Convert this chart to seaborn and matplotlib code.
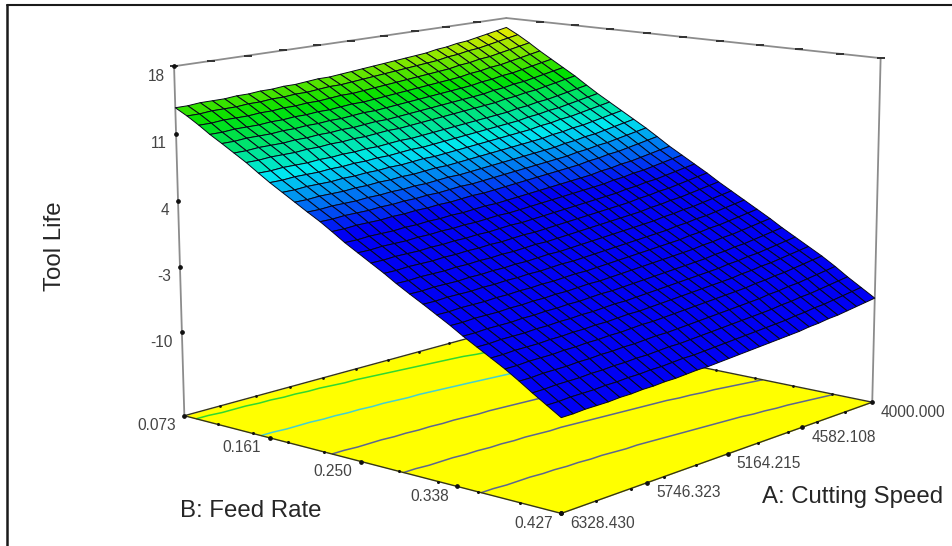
import matplotlib
matplotlib.use("Agg")
import matplotlib.pyplot as plt
import numpy as np
import seaborn as sns
from matplotlib.lines import Line2D
from mpl_toolkits.mplot3d import proj3d

cutting_speed = [4000, 4078, 4155, 4233, 4310, 4388, 4466, 4543, 4621, 4699, 4776,
                 4854, 4931, 5009, 5087, 5164, 5242, 5319, 5397, 5475, 5552,
                 5630, 5708, 5785, 5863, 5940, 6018, 6096, 6173, 6251, 6328.43]
feed_rate = [0.073, 0.085, 0.097, 0.108, 0.120, 0.132, 0.144, 0.156, 0.167, 0.179, 0.191,
             0.203, 0.215, 0.226, 0.238, 0.250, 0.262, 0.274, 0.285, 0.297, 0.309,
             0.321, 0.333, 0.344, 0.356, 0.368, 0.380, 0.392, 0.403, 0.415, 0.427]
# tool life along feed rate at A = 4000
life_by_feed = [16.9, 16.2, 15.4, 14.6, 13.8, 13.0, 12.2, 11.3, 10.5, 9.7, 8.9,
                8.1, 7.3, 6.5, 5.6, 4.8, 4.0, 3.2, 2.4, 1.6, 0.8,
                0.0, -0.8, -1.6, -2.4, -3.2, -4.0, -4.9, -5.8, -6.7, -7.6]
# drop along cutting speed, and how strong that drop is at each feed rate
life_by_speed = [0.0, -0.2, -0.4, -0.6, -0.8, -0.9, -1.1, -1.2, -1.4, -1.5, -1.6,
                 -1.7, -1.8, -1.9, -2.0, -2.1, -2.2, -2.3, -2.3, -2.4, -2.5,
                 -2.5, -2.6, -2.6, -2.7, -2.7, -2.8, -2.8, -2.8, -2.9, -2.9]
speed_weight = [1.10, 1.09, 1.08, 1.07, 1.05, 1.04, 1.03, 1.02, 1.01, 1.00, 0.99,
                0.98, 0.96, 0.95, 0.94, 0.93, 0.92, 0.91, 0.90, 0.89, 0.87,
                0.86, 0.85, 0.84, 0.83, 0.82, 0.81, 0.80, 0.78, 0.77, 0.76]

speed_ticks = [4000.000, 4582.108, 5164.215, 5746.323, 6328.430]
feed_ticks = [0.073, 0.161, 0.250, 0.338, 0.427]
life_ticks = [-10, -3, 4, 11, 18]
contour_levels = [-5.0, -0.5, 4.0, 8.6, 13.0]
contour_colors = ["#5c6690", "#5c6690", "#5c6690", "#45d0d0", "#30d830"]
floor_z = -19.0

sns.set_theme(style="white")
plt.rcParams["font.family"] = ["Liberation Sans", "DejaVu Sans"]

W, H = 953, 546
fig = plt.figure(figsize=(W / 100, H / 100), dpi=100)
ax = fig.add_subplot(projection="3d", computed_zorder=False)
ax.set_position([140.25 / W, -82.29 / H, 760.33 / W, 760.33 / H])
ax.view_init(elev=11.807, azim=40.956, roll=0.13)
ax.set_proj_type("persp", focal_length=0.6591)
ax.set_box_aspect((1, 1.011, 0.721))
ax.set_axis_off()

a_min, a_max = speed_ticks[0], speed_ticks[-1]
b_min, b_max = feed_ticks[0], feed_ticks[-1]
z_top = life_ticks[-1]

A, B = np.meshgrid(cutting_speed, feed_rate)
Z = np.add.outer(life_by_feed, life_by_speed) + np.outer(np.subtract(speed_weight, 1), life_by_speed)

cmap = sns.blend_palette(["#0000f4", "#00e8f0", "#00e000", "#f8ec00"], as_cmap=True)

ax.plot_surface(A, B, np.full_like(Z, floor_z), color="#ffff00", shade=False, linewidth=0, zorder=1,
                rstride=30, cstride=30)
ax.contour(A, B, Z, levels=contour_levels, zdir="z", offset=floor_z, colors=contour_colors,
           linewidths=1.1, zorder=2)

# floor edges
floor_edges = [([a_max, a_max], [b_min, b_max]), ([a_max, a_min], [b_max, b_max]),
               ([a_min, a_min], [b_max, b_min]), ([a_min, a_max], [b_min, b_min])]
for xs, ys in floor_edges:
    ax.plot(xs, ys, [floor_z, floor_z], color="#35351a", lw=1.0, zorder=3)

# walls
gray = "#8c8c8c"
ax.plot([a_max, a_max], [b_min, b_min], [floor_z, z_top], color=gray, lw=1.3, zorder=3)
ax.plot([a_min, a_min], [b_max, b_max], [floor_z, z_top], color=gray, lw=1.3, zorder=3)
ax.plot([a_max, a_min], [b_min, b_min], [z_top, z_top], color=gray, lw=1.3, zorder=3)
ax.plot([a_min, a_min], [b_min, b_max], [z_top, z_top], color=gray, lw=1.3, zorder=3)

# ticks
minor_a, minor_b = cutting_speed[3::3], feed_rate[3::3]
dot = dict(ls="", marker="o", color="#111111", zorder=3)
ax.plot(minor_a, [b_max] * len(minor_a), [floor_z] * len(minor_a), ms=1.2, **dot)
ax.plot([a_max] * len(minor_b), minor_b, [floor_z] * len(minor_b), ms=1.2, **dot)
ax.plot(minor_a, [b_min] * len(minor_a), [floor_z] * len(minor_a), ms=1.0, **dot)
ax.plot([a_min] * len(minor_b), minor_b, [floor_z] * len(minor_b), ms=1.0, **dot)
ax.plot(minor_a, [b_min] * len(minor_a), [z_top] * len(minor_a), ls="", marker="_", ms=6, mew=1.4, color="#333333", zorder=3)
ax.plot([a_min] * len(minor_b), minor_b, [z_top] * len(minor_b), ls="", marker="_", ms=6, mew=1.4, color="#333333", zorder=3)
ax.plot([a_max] * len(feed_ticks), feed_ticks, [floor_z] * len(feed_ticks), ms=2.4, **dot)
ax.plot(speed_ticks, [b_max] * len(speed_ticks), [floor_z] * len(speed_ticks), ms=2.4, **dot)
ax.plot([a_max] * len(life_ticks), [b_min] * len(life_ticks), life_ticks, ms=2.4, **dot)

ax.plot_surface(A, B, Z, cmap=cmap, vmin=3.5, vmax=17.0, rstride=1, cstride=1, shade=False,
                edgecolor="#060618", linewidth=0.7, zorder=5)

ax.set_xlim(a_min, a_max, view_margin=0)
ax.set_ylim(b_min, b_max, view_margin=0)
ax.set_zlim(floor_z, z_top, view_margin=0)

M = ax.get_proj()


def tick_label(a, b, z, text, dx, dy, ha="center"):
    x, y, _ = proj3d.proj_transform(a, b, z, M)
    ax.annotate(text, xy=(x, y), xytext=(dx, dy), textcoords="offset pixels", ha=ha, va="center",
                fontsize=11.2, color="#444444", annotation_clip=False)


for v in life_ticks:
    tick_label(a_max, b_min, v, str(v), -9, -10, ha="right")
for v in feed_ticks:
    tick_label(a_max, v, floor_z, f"{v:.3f}", -28, -10)
for v in speed_ticks:
    tick_label(v, b_max, floor_z, f"{v:.3f}", 41, -10)

fig.text(55 / W, 1 - 246 / H, "Tool Life", rotation=90, ha="center", va="center", fontsize=17.3, color="#262626")
fig.text(251 / W, 1 - 511 / H, "B: Feed Rate", ha="center", va="center", fontsize=17.3, color="#262626")
fig.text(853 / W, 1 - 497 / H, "A: Cutting Speed", ha="center", va="center", fontsize=17.3, color="#262626")

# frame of the screenshot: only left and top are visible
fig.add_artist(Line2D([7.5 / W, 7.5 / W], [0, 1 - 5 / H], color="#1a1a1a", lw=1.8))
fig.add_artist(Line2D([7.5 / W, 1], [1 - 5 / H, 1 - 5 / H], color="#1a1a1a", lw=1.5))

fig.savefig("out.png", dpi=100)
